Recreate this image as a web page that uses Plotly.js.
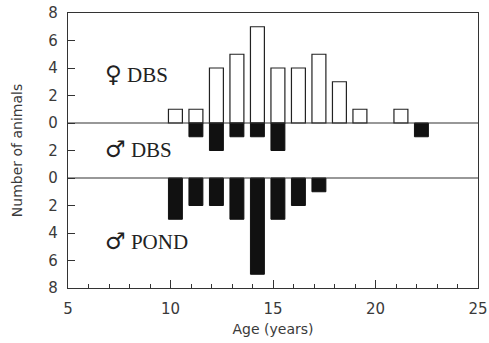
<!DOCTYPE html>
<html><head><meta charset="utf-8">
<script src="https://cdn.plot.ly/plotly-3.0.1.min.js"></script>
<style>html,body{margin:0;padding:0;background:#fff}#plot{width:489px;height:343px}</style>
</head><body><div id="plot"></div>
<script>
// Data
const ages = [10, 11, 12, 13, 14, 15, 16, 17, 18, 19, 20, 21, 22];
const femaleDBS = [1, 1, 4, 5, 7, 4, 4, 5, 3, 1, 0, 1, 0];
const maleDBS   = [0, 1, 2, 1, 1, 2, 0, 0, 0, 0, 0, 0, 1];
const malePOND  = [3, 2, 2, 3, 7, 3, 2, 1, 0, 0, 0, 0, 0];
const yTickLabels = ['8','6','4','2','0','2','0','2','4','6','8'];

// Stacked panel layout on a single axis (0..20)
const baseFemale = 12, baseMaleDBS = 12, basePOND = 8;
const yTickVals = [20,18,16,14,12,10,8,6,4,2,0];

const up = a => a.map(v => v === 0 ? null : v);
const down = a => a.map(v => v === 0 ? null : -v);

const barW = 0.68, barOff = -0.1;
const traces = [
  {type:'bar', x:ages, y:up(femaleDBS), base:baseFemale, width:barW, offset:barOff,
   marker:{color:'#ffffff', line:{color:'#222', width:1.2}}, hoverinfo:'skip'},
  {type:'bar', x:ages, y:down(maleDBS), base:baseMaleDBS, width:barW, offset:barOff,
   marker:{color:'#111', line:{color:'#111', width:1}}, hoverinfo:'skip'},
  {type:'bar', x:ages, y:down(malePOND), base:basePOND, width:barW, offset:barOff,
   marker:{color:'#111', line:{color:'#111', width:1}}, hoverinfo:'skip'}
];

const tickFont = {family:'DejaVu Sans, sans-serif', size:15, color:'#3a3a3a'};
const lblFont = {family:'Liberation Serif, DejaVu Serif, serif', size:21, color:'#222'};
const sym = s => '<span style="font-family:DejaVu Sans;font-size:23px">' + s + '</span>';

const layout = {
  width:489, height:343,
  margin:{l:68, r:11, t:13, b:55},
  paper_bgcolor:'#fff', plot_bgcolor:'#fff',
  showlegend:false, barmode:'overlay',
  xaxis:{range:[5,25], tickvals:[5,10,15,20,25], ticks:'inside', ticklen:8, tickcolor:'#333',
    minor:{dtick:1, ticks:'inside', ticklen:4, tickcolor:'#333'},
    showline:true, mirror:true, linecolor:'#333', linewidth:1.2, showgrid:false, zeroline:false,
    tickfont:tickFont, ticklabelstandoff:7,
    title:{text:'Age (years)', font:{family:'DejaVu Sans, sans-serif', size:14, color:'#3a3a3a'}, standoff:7}},
  yaxis:{range:[0,20], tickvals:yTickVals, ticktext:yTickLabels, ticks:'inside', ticklen:7, tickcolor:'#333',
    showline:true, mirror:true, linecolor:'#333', linewidth:1.2, showgrid:false, zeroline:false,
    tickfont:tickFont, ticklabelstandoff:6,
    title:{text:'Number of animals', font:{family:'DejaVu Sans, sans-serif', size:14, color:'#3a3a3a'}, standoff:22}},
  shapes:[
    {type:'line', xref:'paper', x0:0, x1:1, yref:'y', y0:baseFemale, y1:baseFemale, line:{color:'#333', width:1.2}},
    {type:'line', xref:'paper', x0:0, x1:1, yref:'y', y0:basePOND, y1:basePOND, line:{color:'#333', width:1.2}}
  ],
  annotations:[
    {text:sym('♀') + ' DBS', x:6.7, y:15.6, xref:'x', yref:'y', xanchor:'left', showarrow:false, font:lblFont},
    {text:sym('♂') + ' DBS', x:6.7, y:10.1, xref:'x', yref:'y', xanchor:'left', showarrow:false, font:lblFont},
    {text:sym('♂') + ' POND', x:6.7, y:3.4, xref:'x', yref:'y', xanchor:'left', showarrow:false, font:lblFont}
  ]
};
Plotly.newPlot('plot', traces, layout, {staticPlot:true, displayModeBar:false});
</script></body></html>
